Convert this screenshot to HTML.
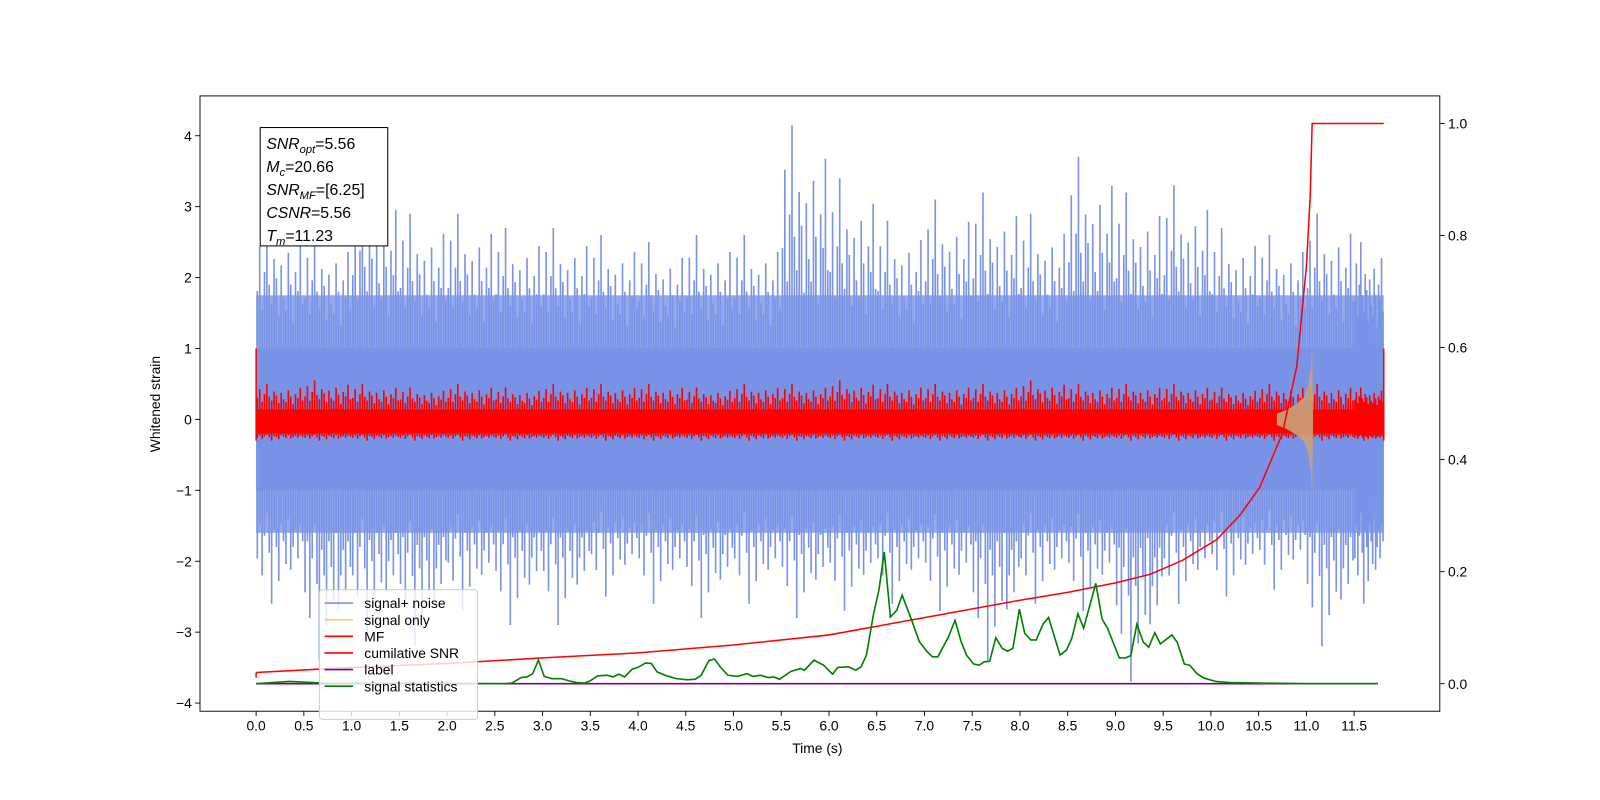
<!DOCTYPE html>
<html><head><meta charset="utf-8"><style>
html,body{margin:0;padding:0;background:#fff;}
svg{display:block;font-family:"Liberation Sans","DejaVu Sans",sans-serif;}
</style></head><body>
<svg id="chart" width="1600" height="800" viewBox="0 0 1568 784" xmlns="http://www.w3.org/2000/svg">
<rect x="0" y="0" width="1568" height="784" fill="#fff"/>
<g id="plot"></g>
<g id="axes"></g>
</svg>
<script>
// ---- data ----
const binStarts = [0,0.5,1,1.5,2,2.5,3,3.5,4,4.5,5,5.5,6,6.5,7,7.5,8,8.5,9,9.5,10,10.5,11,11.5];
const noiseUpper = [2.8,2.6,3.3,2.9,2.9,2.7,2.7,2.6,2.5,2.6,2.6,4.15,3.4,2.8,3.1,3.2,2.9,3.7,3.2,3.3,2.7,2.6,2.9,2.5];
const noiseLower = [-2.6,-3.4,-3.0,-3.2,-2.7,-2.9,-2.9,-2.5,-2.6,-2.8,-2.6,-2.8,-2.7,-2.6,-2.7,-3.4,-2.6,-2.7,-3.7,-2.6,-2.5,-2.4,-3.2,-2.6];
const noiseCore = [-1.0, 1.0];
const noiseMid = [-1.6, 1.75];
const mfCore = [-0.2, 0.14];
const mfUpper = [0.5,0.55,0.5,0.45,0.5,0.45,0.5,0.5,0.5,0.45,0.5,0.5,0.55,0.5,0.5,0.5,0.55,0.5,0.5,0.5,0.45,0.5,0.5,0.45];
const mfLower = [-0.3,-0.3,-0.3,-0.3,-0.3,-0.3,-0.3,-0.3,-0.3,-0.3,-0.3,-0.3,-0.3,-0.3,-0.3,-0.3,-0.3,-0.3,-0.3,-0.3,-0.3,-0.3,-0.3,-0.3];
const chirpTimes = [10.69,10.8,10.9,10.98,11.02,11.05,11.06,11.07];
const chirpAmp = [0.08,0.14,0.22,0.32,0.48,0.75,1.08,0.0];
const snrTimes = [0,1,2,3,4,5,6,7,8,8.5,9,9.36,9.7,10.06,10.3,10.51,10.75,10.9,11.0,11.04,11.06,11.81];
const snrValues = [0.02,0.029,0.036,0.046,0.055,0.069,0.087,0.118,0.149,0.163,0.18,0.195,0.22,0.257,0.3,0.35,0.447,0.567,0.745,0.87,1.0,1.0];
const statTimes = [0,0.35,0.7,2.6,2.677,2.777,2.837,2.897,2.957,3.017,3.098,3.198,3.278,3.358,3.438,3.498,3.578,3.679,3.739,3.799,3.859,3.939,3.999,4.08,4.14,4.2,4.3,4.4,4.52,4.6,4.661,4.741,4.801,4.861,4.941,5.041,5.142,5.202,5.282,5.362,5.422,5.482,5.602,5.703,5.743,5.843,5.943,6.037,6.093,6.205,6.28,6.336,6.392,6.467,6.523,6.579,6.643,6.71,6.766,6.86,6.946,7.028,7.084,7.14,7.253,7.32,7.384,7.44,7.515,7.571,7.627,7.683,7.747,7.814,7.87,7.926,7.994,8.05,8.113,8.17,8.244,8.3,8.42,8.487,8.543,8.607,8.667,8.794,8.861,8.917,9.041,9.105,9.161,9.224,9.292,9.348,9.412,9.471,9.591,9.647,9.722,9.778,9.853,9.928,10.05,10.2,10.5,11.0,11.75];
const statValues = [0,0.004,0.001,0,0.001,0.011,0.012,0.018,0.042,0.013,0.009,0.009,0.005,0.002,0.001,0.005,0.014,0.015,0.012,0.017,0.012,0.026,0.029,0.037,0.036,0.021,0.014,0.009,0.007,0.008,0.015,0.041,0.044,0.030,0.015,0.013,0.018,0.013,0.015,0.011,0.012,0.008,0.022,0.027,0.024,0.042,0.033,0.017,0.029,0.030,0.024,0.030,0.051,0.125,0.167,0.235,0.119,0.131,0.158,0.116,0.075,0.057,0.048,0.048,0.084,0.113,0.075,0.051,0.035,0.033,0.039,0.040,0.082,0.063,0.058,0.063,0.133,0.090,0.078,0.078,0.107,0.118,0.051,0.060,0.081,0.125,0.099,0.179,0.115,0.099,0.046,0.046,0.050,0.106,0.074,0.065,0.091,0.071,0.087,0.074,0.035,0.033,0.018,0.01,0.004,0.002,0.001,0,0];
const labelRange = [0, 11.75];
const xTicks = [0,0.5,1,1.5,2,2.5,3,3.5,4,4.5,5,5.5,6,6.5,7,7.5,8,8.5,9,9.5,10,10.5,11,11.5];
const yTicks = [-4,-3,-2,-1,0,1,2,3,4];
const y2Ticks = [0,0.2,0.4,0.6,0.8,1.0];
const tEnd = 11.81;
// texture pattern (styling only): relative reach of spikes inside a bin
const reach = [0.45,0.8,0.3,0.6,1.0,0.5,0.35,0.7,0.55,0.25,0.65,0.4,0.3,0.75,0.5,0.2,0.6,0.45,0.85,0.35];
const reachLo = [0.6,0.3,0.75,0.4,0.2,0.55,1.0,0.35,0.5,0.8,0.3,0.45,0.65,0.25,0.7,0.5,0.35,0.6,0.3,0.45];

// ---- scales (displayed 1568x784 coordinates) ----
const L=196,R=1411,T=94,B=697;
const x = t => 251 + 93.57*t;
const yL = v => 411 - 69.5*v;
const yR = v => 670 - 549*v;
const NS='http://www.w3.org/2000/svg';
const plot=document.getElementById('plot'), axes=document.getElementById('axes');
function mk(tag, attrs, parent){const e=document.createElementNS(NS,tag);for(const k in attrs)e.setAttribute(k,attrs[k]);parent.appendChild(e);return e;}

const BLUE='#7993e6';
let e = mk('rect',{x:x(0),y:yL(noiseMid[1]),width:x(tEnd)-x(0),height:yL(noiseMid[0])-yL(noiseMid[1]),fill:BLUE,'fill-opacity':0.8},plot);


e = mk('rect',{x:x(0),y:yL(noiseCore[1]),width:x(tEnd)-x(0),height:yL(noiseCore[0])-yL(noiseCore[1]),fill:BLUE},plot);


binStarts.forEach((b,i)=>{
  const w = Math.min(0.5, tEnd-b);
  const n = reach.length;
  for(let j=0;j<n;j++){
    const t=b+w*(j+0.5)/n;
    const up = noiseCore[1] + reach[j]*(noiseUpper[i]-noiseCore[1]);
    const lo = noiseCore[0] + reachLo[j]*(noiseLower[i]-noiseCore[0]);
    const ln = mk('line',{x1:x(t),x2:x(t),y1:yL(up),y2:yL(lo),stroke:BLUE,'stroke-width':1.6},plot);
    
    
  }
});
// MF band
e = mk('rect',{x:x(0),y:yL(mfCore[1]),width:x(tEnd)-x(0),height:yL(mfCore[0])-yL(mfCore[1]),fill:'#ff0000'},plot);


binStarts.forEach((b,i)=>{
  const w = Math.min(0.5, tEnd-b);
  const n = reach.length;
  for(let j=0;j<n;j++){
    const t=b+w*(j+0.5)/n;
    const upv = mfCore[1] + reach[j]*(mfUpper[i]-mfCore[1]);
    const lov = mfCore[0] + reachLo[j]*(mfLower[i]-mfCore[0]);
    const ln = mk('line',{x1:x(t),x2:x(t),y1:yL(upv),y2:yL(lov),stroke:'#ff0000','stroke-width':1.6},plot);
    
    
  }
});
// chirp (signal only) drawn over MF
let up='',dn='';
chirpTimes.forEach((t,i)=>{up+=x(t)+','+yL(chirpAmp[i])+' ';});
for(let i=chirpTimes.length-1;i>=0;i--){dn+=x(chirpTimes[i])+','+yL(-chirpAmp[i])+' ';}
e = mk('polygon',{points:up+dn,fill:'#c9a37a','fill-opacity':0.9},plot);


let ln = mk('line',{x1:x(0),x2:x(0),y1:yL(1),y2:yL(-0.3),stroke:'#ff0000','stroke-width':1.5},plot);


ln = mk('line',{x1:x(tEnd),x2:x(tEnd),y1:yL(1),y2:yL(-0.3),stroke:'#ff0000','stroke-width':1.5},plot);


e = mk('line',{x1:x(labelRange[0]),x2:x(labelRange[1]),y1:yR(0),y2:yR(0),stroke:'#800080','stroke-width':1.5},plot);


e = mk('polyline',{points:snrTimes.map((t,i)=>x(t)+','+yR(snrValues[i])).join(' '),fill:'none',stroke:'#ff0000','stroke-width':1.5,'stroke-linejoin':'round'},plot);


e = mk('line',{x1:x(0),x2:x(0),y1:yR(snrValues[0]),y2:yR(snrValues[0])+5,stroke:'#ff0000','stroke-width':1.5},plot);


e = mk('polyline',{points:statTimes.map((t,i)=>x(t)+','+yR(statValues[i])).join(' '),fill:'none',stroke:'#008000','stroke-width':1.6},plot);



e = mk('rect',{x:L,y:T,width:R-L,height:B-T,fill:'none',stroke:'#000','stroke-width':0.9},axes);


xTicks.forEach(v=>{
  mk('line',{x1:x(v),x2:x(v),y1:B,y2:B+4.8,stroke:'#000','stroke-width':0.9},axes);
  const tx=mk('text',{x:x(v),y:B+19,'text-anchor':'middle','font-size':13.6},axes);
  tx.textContent=v.toFixed(1);
  
  
});
yTicks.forEach(v=>{
  mk('line',{x1:L,x2:L-4.8,y1:yL(v),y2:yL(v),stroke:'#000','stroke-width':0.9},axes);
  const tx=mk('text',{x:L-8,y:yL(v)+5,'text-anchor':'end','font-size':13.6},axes);
  tx.textContent=(v<0?'\u2212'+(-v):String(v));
  
  
});
y2Ticks.forEach(v=>{
  mk('line',{x1:R,x2:R+4.8,y1:yR(v),y2:yR(v),stroke:'#000','stroke-width':0.9},axes);
  const tx=mk('text',{x:R+8,y:yR(v)+5,'text-anchor':'start','font-size':13.6},axes);
  tx.textContent=v.toFixed(1);
  
  
});
</script>
<script>
(function(){
const svg=document.getElementById('chart');
const NS='http://www.w3.org/2000/svg';
function mk(tag,attrs,parent){const e=document.createElementNS(NS,tag);for(const k in attrs)e.setAttribute(k,attrs[k]);parent.appendChild(e);return e;}
let t=mk('text',{x:801,y:738,'text-anchor':'middle','font-size':13.6},svg);
t.textContent='Time (s)';


t=mk('text',{x:0,y:0,'text-anchor':'middle','font-size':13.6,transform:'translate(157,396) rotate(-90)'},svg);
t.textContent='Whitened strain';


const lg=mk('g',{},svg);


mk('rect',{x:313,y:578,width:155,height:127,rx:3,fill:'#fff','fill-opacity':0.8,stroke:'#ccc'},lg);
const names=['signal+ noise','signal only','MF','cumilative SNR','label','signal statistics'];
const cols=['#7993e6','#ffc870','#ff0000','#ff0000','#800080','#008000'];
names.forEach((n,i)=>{
  const y=591+i*16.3;
  const l=mk('line',{x1:318,x2:346,y1:y,y2:y,stroke:cols[i],'stroke-width':1.6},lg);
  
  
  const tx=mk('text',{x:357,y:y+5,'font-size':13.6},lg);
  tx.textContent=n;
  
  
});
const ab=mk('g',{},svg);


mk('rect',{x:255,y:125,width:125,height:116,fill:'#fff',stroke:'#000'},ab);
const lines=[['SNR','opt','=5.56'],['M','c','=20.66'],['SNR','MF','=[6.25]'],['CSNR','','=5.56'],['T','m','=11.23']];
lines.forEach((p,i)=>{
  const tx=mk('text',{x:261,y:146+i*22.5,'font-size':15.5},ab);
  const a=mk('tspan',{'font-style':'italic'},tx);a.textContent=p[0];
  if(p[1]){const b=mk('tspan',{'font-style':'italic','font-size':11,dy:4},tx);b.textContent=p[1];
    const c=mk('tspan',{dy:-4},tx);c.textContent=p[2];}
  else{const c=mk('tspan',{},tx);c.textContent=p[2];}
  
  
});
})();
</script>
</body></html>
